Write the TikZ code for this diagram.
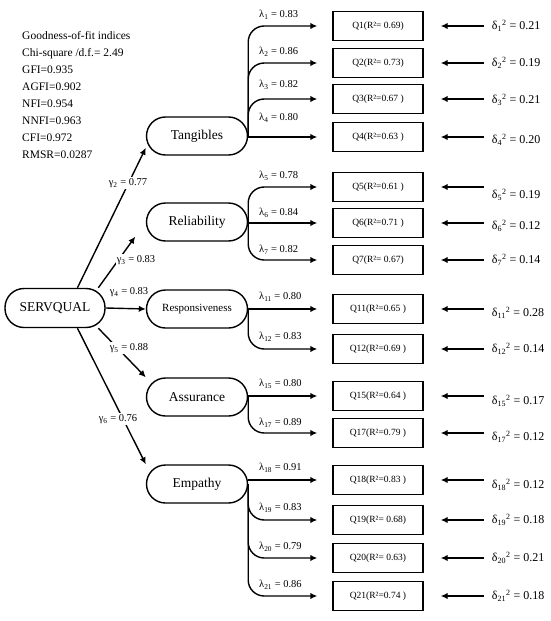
\documentclass[tikz,border=0pt]{standalone}
\usepackage{fontspec}
\setmainfont{Liberation Serif}
\usetikzlibrary{arrows.meta, positioning}

\begin{document}
\begin{tikzpicture}[
    x=1pt, y=-1pt,
    latent/.style={draw=black, line width=1.4pt, rounded corners=19pt, minimum width=101pt, minimum height=38pt, align=center, font=\fontsize{13.5}{15}\selectfont},
    item/.style={draw=black, line width=1.4pt, minimum width=90pt, minimum height=29pt, font=\fontsize{9.5}{11}\selectfont},
    lam/.style={anchor=west, inner sep=1pt, font=\fontsize{10.5}{12}\selectfont},
    gam/.style={fill=white, inner sep=1pt, font=\fontsize{10.5}{12}\selectfont},
    err/.style={inner sep=1pt, font=\fontsize{12}{14}\selectfont},
    arrow/.style={-{Latex[length=7pt,width=6.5pt]}, line width=1.4pt},
    branch/.style={arrow, rounded corners=16pt, shorten >=15pt},
    errarrow/.style={arrow, shorten <=7pt, shorten >=17pt}
]
    \useasboundingbox (0,0) rectangle (550,621);

    % fit indices
    \node[anchor=north west, align=left, inner sep=0pt, font=\fontsize{11.5}{17}\selectfont] (gof) at (22,31)
        {Goodness-of-fit indices\\Chi-square /d.f.= 2.49\\GFI=0.935\\AGFI=0.902\\NFI=0.954\\NNFI=0.963\\CFI=0.972\\RMSR=0.0287};

    % latent variables
    \node[latent, minimum width=100pt, minimum height=39pt] (serv) at (55,308) {SERVQUAL};
    \node[latent] (tang) at (197,136) {Tangibles};
    \node[latent] (rel) at (197,222) {Reliability};
    \node[latent, font=\fontsize{11}{13}\selectfont] (resp) at (197,309) {Responsiveness};
    \node[latent] (assur) at (197,397) {Assurance};
    \node[latent] (emp) at (197,484) {Empathy};

    % items
    \node[item] (q1) at (378,26) {Q1(R²= 0.69)};
    \node[item] (q2) at (378,63) {Q2(R²= 0.73)};
    \node[item] (q3) at (378,99) {Q3(R²=0.67 )};
    \node[item] (q4) at (378,137) {Q4(R²=0.63 )};
    \node[item] (q5) at (378,187) {Q5(R²=0.61 )};
    \node[item] (q6) at (378,223) {Q6(R²=0.71 )};
    \node[item] (q7) at (378,260) {Q7(R²= 0.67)};
    \node[item] (q11) at (378,309) {Q11(R²=0.65 )};
    \node[item] (q12) at (378,349) {Q12(R²=0.69 )};
    \node[item] (q15) at (378,396) {Q15(R²=0.64 )};
    \node[item] (q17) at (378,433) {Q17(R²=0.79 )};
    \node[item] (q18) at (378,480) {Q18(R²=0.83 )};
    \node[item] (q19) at (378,520) {Q19(R²= 0.68)};
    \node[item] (q20) at (378,558) {Q20(R²= 0.63)};
    \node[item] (q21) at (378,596) {Q21(R²=0.74 )};

    % error variances
    \node[err, right=67pt of q1] (d1) {δ\textsubscript{1}\textsuperscript{2} = 0.21};
    \node[err, right=67pt of q2] (d2) {δ\textsubscript{2}\textsuperscript{2} = 0.19};
    \node[err, right=67pt of q3, yshift=-1pt] (d3) {δ\textsubscript{3}\textsuperscript{2} = 0.21};
    \node[err, right=67pt of q4, yshift=-3pt] (d4) {δ\textsubscript{4}\textsuperscript{2} = 0.20};
    \node[err, right=67pt of q5, yshift=-8pt] (d5) {δ\textsubscript{5}\textsuperscript{2} = 0.19};
    \node[err, right=67pt of q6, yshift=-3pt] (d6) {δ\textsubscript{6}\textsuperscript{2} = 0.12};
    \node[err, right=67pt of q7] (d7) {δ\textsubscript{7}\textsuperscript{2} = 0.14};
    \node[err, right=67pt of q11, yshift=-4pt] (d11) {δ\textsubscript{11}\textsuperscript{2} = 0.28};
    \node[err, right=67pt of q12] (d12) {δ\textsubscript{12}\textsuperscript{2} = 0.14};
    \node[err, right=67pt of q15, yshift=-5pt] (d15) {δ\textsubscript{15}\textsuperscript{2} = 0.17};
    \node[err, right=67pt of q17, yshift=-4pt] (d17) {δ\textsubscript{17}\textsuperscript{2} = 0.12};
    \node[err, right=67pt of q18, yshift=-5pt] (d18) {δ\textsubscript{18}\textsuperscript{2} = 0.12};
    \node[err, right=67pt of q19] (d19) {δ\textsubscript{19}\textsuperscript{2} = 0.18};
    \node[err, right=67pt of q20] (d20) {δ\textsubscript{20}\textsuperscript{2} = 0.21};
    \node[err, right=67pt of q21] (d21) {δ\textsubscript{21}\textsuperscript{2} = 0.18};

    \draw[errarrow] (d1.west |- q1.east) -- (q1.east);
    \draw[errarrow] (d2.west |- q2.east) -- (q2.east);
    \draw[errarrow] (d3.west |- q3.east) -- (q3.east);
    \draw[errarrow] (d4.west |- q4.east) -- (q4.east);
    \draw[errarrow] (d5.west |- q5.east) -- (q5.east);
    \draw[errarrow] (d6.west |- q6.east) -- (q6.east);
    \draw[errarrow] (d7.west |- q7.east) -- (q7.east);
    \draw[errarrow] (d11.west |- q11.east) -- (q11.east);
    \draw[errarrow] (d12.west |- q12.east) -- (q12.east);
    \draw[errarrow] (d15.west |- q15.east) -- (q15.east);
    \draw[errarrow] (d17.west |- q17.east) -- (q17.east);
    \draw[errarrow] (d18.west |- q18.east) -- (q18.east);
    \draw[errarrow] (d19.west |- q19.east) -- (q19.east);
    \draw[errarrow] (d20.west |- q20.east) -- (q20.east);
    \draw[errarrow] (d21.west |- q21.east) -- (q21.east);

    % loadings
    \draw[branch] (tang.east) |- (q1.west);
    \draw[branch] (tang.east) |- (q2.west);
    \draw[branch] (tang.east) |- (q3.west);
    \draw[branch] (tang.east |- q4.west) -- (q4.west);
    \draw[branch] (rel.east) |- (q5.west);
    \draw[branch] (rel.east |- q6.west) -- (q6.west);
    \draw[branch] (rel.east) |- (q7.west);
    \draw[branch] (resp.east |- q11.west) -- (q11.west);
    \draw[branch] (resp.east) |- (q12.west);
    \draw[branch] (assur.east |- q15.west) -- (q15.west);
    \draw[branch] (assur.east) |- (q17.west);
    \draw[branch] (emp.east |- q18.west) -- (q18.west);
    \draw[branch] (emp.east) |- (q19.west);
    \draw[branch] (emp.east) |- (q20.west);
    \draw[branch] (emp.east) |- (q21.west);

    \node[lam] (l1) at (258,15) {λ\textsubscript{1} = 0.83};
    \node[lam] (l2) at (258,52) {λ\textsubscript{2} = 0.86};
    \node[lam] (l3) at (258,85) {λ\textsubscript{3} = 0.82};
    \node[lam] (l4) at (258,118) {λ\textsubscript{4} = 0.80};
    \node[lam] (l5) at (258,176) {λ\textsubscript{5} = 0.78};
    \node[lam] (l6) at (258,213) {λ\textsubscript{6} = 0.84};
    \node[lam] (l7) at (258,250) {λ\textsubscript{7} = 0.82};
    \node[lam] (l11) at (258,297) {λ\textsubscript{11} = 0.80};
    \node[lam] (l12) at (258,337) {λ\textsubscript{12} = 0.83};
    \node[lam] (l15) at (258,384) {λ\textsubscript{15} = 0.80};
    \node[lam] (l17) at (258,423) {λ\textsubscript{17} = 0.89};
    \node[lam] (l18) at (258,468) {λ\textsubscript{18} = 0.91};
    \node[lam] (l19) at (258,508) {λ\textsubscript{19} = 0.83};
    \node[lam] (l20) at (258,547) {λ\textsubscript{20} = 0.79};
    \node[lam] (l21) at (258,585) {λ\textsubscript{21} = 0.86};

    % second-order paths
    \draw[arrow] (serv.42) -- (tang.193);
    \draw[arrow, shorten >=18pt] (serv.25) -- (rel.west);
    \draw[arrow] (serv.east) -- (resp.west);
    \draw[arrow] (serv.-25) -- (assur.north west);
    \draw[arrow] (serv.-42) -- (emp.north west);

    \node[gam] (g2) at (128,183) {γ\textsubscript{2} = 0.77};
    \node[gam] (g3) at (136,260) {γ\textsubscript{3} = 0.83};
    \node[gam] (g4) at (129,292) {γ\textsubscript{4} = 0.83};
    \node[gam] (g5) at (129,348) {γ\textsubscript{5} = 0.88};
    \node[gam] (g6) at (118,419) {γ\textsubscript{6} = 0.76};
\end{tikzpicture}
\end{document}
